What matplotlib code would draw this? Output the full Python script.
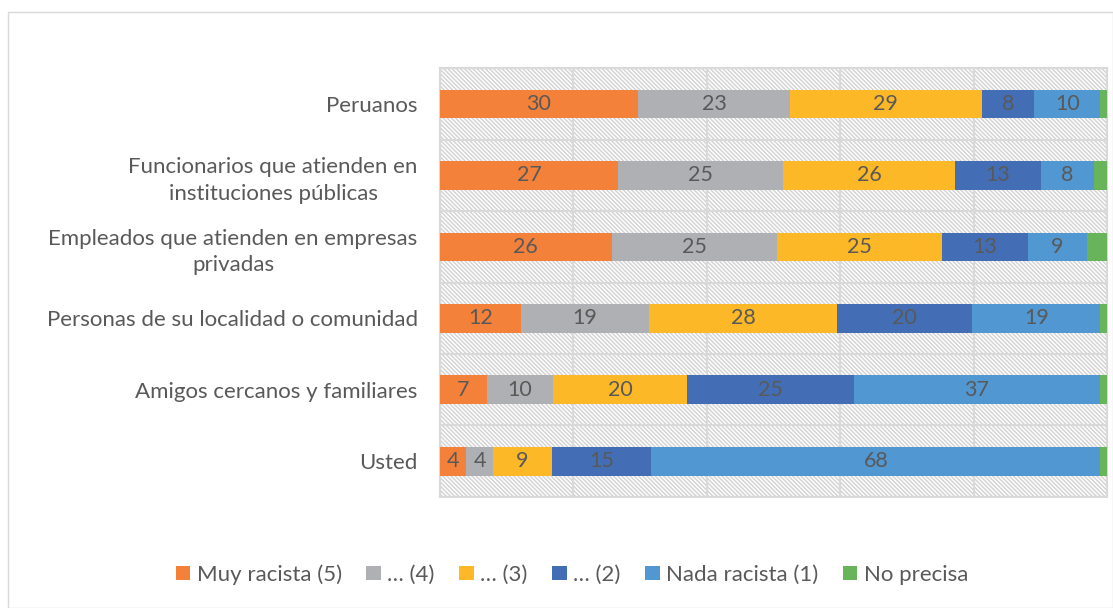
import numpy as np
import matplotlib.pyplot as plt
from matplotlib.patches import Rectangle

plt.rcParams['font.family'] = ['Lato', 'DejaVu Sans']

# datos (porcentajes redondeados, tal como se leen en el grafico)
categorias = ['Peruanos',
              'Funcionarios que atienden en\ninstituciones públicas',
              'Empleados que atienden en empresas\nprivadas',
              'Personas de su localidad o comunidad',
              'Amigos cercanos y familiares',
              'Usted']
series = ['Muy racista (5)', '… (4)', '… (3)', '… (2)', 'Nada racista (1)', 'No precisa']
muy_racista = [30, 27, 26, 12, 7, 4]
nivel_4 = [23, 25, 25, 19, 10, 4]
nivel_3 = [29, 26, 25, 28, 20, 9]
nivel_2 = [8, 13, 13, 20, 25, 15]
nada_racista = [10, 8, 9, 19, 37, 68]
no_precisa = [1, 2, 3, 1, 1, 1]

colores = ['#F4813A', '#AFB0B3', '#FDB827', '#436EB6', '#5197D1', '#67B45A']
gris_txt = '#595959'
gris_grid = '#D9D9D9'

valores = np.array([muy_racista, nivel_4, nivel_3, nivel_2, nada_racista, no_precisa], dtype=float)
# 100% apilado, como en Excel
norm = valores / valores.sum(axis=0) * 100

fig = plt.figure(figsize=(11.13, 6.08), dpi=100)
fig.patches.append(Rectangle((0.007, 0.0), 0.993, 0.98, transform=fig.transFigure,
                             fill=False, edgecolor=gris_grid, lw=1))
ax = fig.add_axes([0.3953, 0.1826, 0.5993, 0.7054])

n = len(categorias)
y = np.arange(n)[::-1]

# fondo rayado
plt.rcParams['hatch.color'] = '#D4D4D4'
plt.rcParams['hatch.linewidth'] = 1.1
ax.add_patch(Rectangle((0, 0), 1, 1, transform=ax.transAxes, facecolor='white',
                       hatch='\\\\\\\\\\\\\\\\', edgecolor='#D4D4D4', lw=0, zorder=0))

izq = np.zeros(n)
for i, nombre in enumerate(series):
    ax.barh(y, norm[i], left=izq, height=0.4, color=colores[i], label=nombre, zorder=3)
    if i < 5:
        for j in range(n):
            ax.text(izq[j] + norm[i][j] / 2, y[j], '%d' % valores[i][j], ha='center', va='center',
                    fontsize=15.5, color=gris_txt, zorder=4)
    izq += norm[i]

ax.set_xlim(0, 100)
ax.set_ylim(-0.5, n - 0.5)
for xv in range(0, 101, 20):
    ax.axvline(xv, color=gris_grid, lw=1.5, zorder=1)
for yv in np.arange(-0.5, n, 1.0):
    ax.axhline(yv, color=gris_grid, lw=1.5, zorder=1)

ax.set_xticks([])
ax.set_yticks(y)
ax.set_yticklabels(categorias, fontsize=16, color=gris_txt)
for lab in ax.get_yticklabels():
    lab.set_multialignment('center')
    lab.set_linespacing(1.4)
ax.tick_params(axis='y', length=0, pad=16)
for s in ax.spines.values():
    s.set_color(gris_grid)
    s.set_linewidth(1.5)

ax.legend(loc='center', bbox_to_anchor=(0.514, 0.055), bbox_transform=fig.transFigure,
          ncol=6, frameon=False, fontsize=16, labelcolor=gris_txt, handlelength=0.65,
          handleheight=0.65, handletextpad=0.3, columnspacing=1.1)

fig.savefig('out.png', dpi=100)
